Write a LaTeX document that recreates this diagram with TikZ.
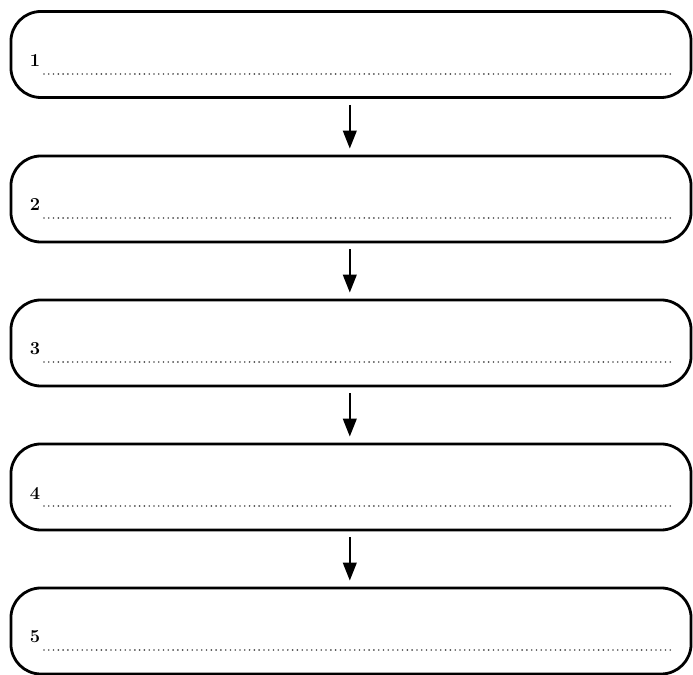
\documentclass[tikz,border=0pt]{standalone}
\usetikzlibrary{arrows.meta}
\tikzset{
  stage/.style={draw, line width=0.07cm, rounded corners=0.75cm,
    minimum width=17cm, minimum height=2.15cm},
  stagenum/.style={font=\fontsize{13}{15}\selectfont\bfseries, inner sep=0pt},
  fillline/.style={draw=black!70, line width=1.3pt, line cap=round,
    dash pattern=on 0pt off 3.4pt},
  flow/.style={line width=0.055cm, -{Triangle[length=0.45cm,width=0.34cm]},
    shorten <=0.15cm, shorten >=0.15cm}
}
\begin{document}
\begin{tikzpicture}[x=0.025cm,y=-0.025cm]
  \useasboundingbox (0,0) rectangle (693,675);
  \draw
    (351,54.5) node[stage] (s1){}
    (351,199) node[stage] (s2){}
    (351,343) node[stage] (s3){}
    (351,487) node[stage] (s4){}
    (351,631) node[stage] (s5){};
  \draw
    (35,61) node[stagenum] (n1){1}
    (35,205) node[stagenum] (n2){2}
    (35,349) node[stagenum] (n3){3}
    (35,493) node[stagenum] (n4){4}
    (35,637) node[stagenum] (n5){5};
  \draw[fillline] (44,74) -- (672,74);
  \draw[fillline] (44,218) -- (672,218);
  \draw[fillline] (44,362) -- (672,362);
  \draw[fillline] (44,506) -- (672,506);
  \draw[fillline] (44,650) -- (672,650);
  \begin{scope}[flow]
    \draw ([xshift=-0.03cm]s1.south) to ([xshift=-0.03cm]s2.north);
    \draw ([xshift=-0.03cm]s2.south) to ([xshift=-0.03cm]s3.north);
    \draw ([xshift=-0.03cm]s3.south) to ([xshift=-0.03cm]s4.north);
    \draw ([xshift=-0.03cm]s4.south) to ([xshift=-0.03cm]s5.north);
  \end{scope}
\end{tikzpicture}
\end{document}
